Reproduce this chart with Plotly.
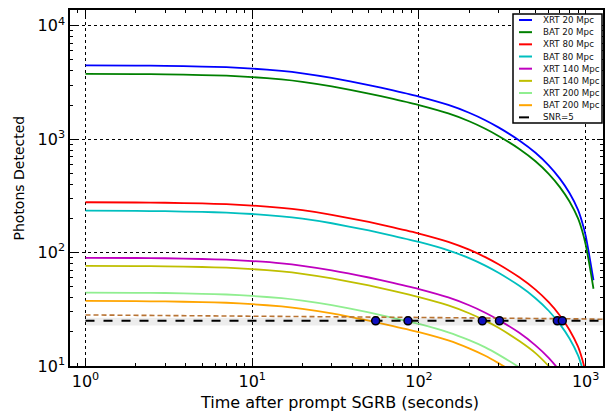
import plotly.graph_objects as go

# ---------------- data ----------------
time_s = [1, 2, 3, 5, 7, 10, 15, 20, 30, 50, 70, 100, 150, 200, 250, 300,
          400, 500, 600, 700, 800, 900, 950, 1000, 1036, 1075, 1114]

xrt_20 = [4480, 4458, 4435, 4368, 4310, 4189, 4001, 3808, 3472, 3002, 2688, 2374,
          2003, 1710, 1469, 1270, 974, 759, 588, 449, 335, 238, 188, 141, 107, 78, 57]
bat_20 = [3770, 3751, 3732, 3676, 3627, 3525, 3367, 3205, 2922, 2526, 2262, 1998,
          1685, 1439, 1236, 1068, 820, 639, 495, 378, 282, 200, 158, 118, 90, 66, 48]
xrt_80 = [278, 276.6, 275.2, 271.1, 267.4, 259.9, 248.3, 236.3, 215.5, 186.3, 166.8, 147.3,
          124.3, 106.1, 91.2, 78.8, 60.5, 47.1, 36.5, 27.9, 20.8, 14.8, 11.7, 8.7, 6.6, 4.9, 3.6]
bat_80 = [234, 232.8, 231.7, 228.2, 225.1, 218.8, 209.0, 198.9, 181.4, 156.8, 140.4, 124.0,
          104.6, 89.3, 76.7, 66.3, 50.9, 39.6, 30.7, 23.4, 17.5, 12.4, 9.8, 7.3, 5.6, 4.1, 3.0]
xrt_140 = [90, 89.6, 89.1, 87.8, 86.6, 84.2, 80.4, 76.5, 69.8, 60.3, 54.0, 47.7,
           40.2, 34.3, 29.5, 25.5, 19.6, 15.2, 11.8, 9.0, 6.7, 4.8, 3.8, 2.8, 2.1, 1.6, 1.2]
bat_140 = [76.5, 76.1, 75.7, 74.6, 73.6, 71.5, 68.3, 65.0, 59.3, 51.3, 45.9, 40.5,
           34.2, 29.2, 25.1, 21.7, 16.6, 13.0, 10.0, 7.7, 5.7, 4.1, 3.2, 2.4, 1.8, 1.3, 0.98]
xrt_200 = [44.4, 44.2, 44.0, 43.3, 42.7, 41.5, 39.6, 37.7, 34.4, 29.7, 26.6, 23.5,
           19.8, 16.9, 14.6, 12.6, 9.7, 7.5, 5.8, 4.4, 3.3, 2.4, 1.9, 1.4, 1.1, 0.78, 0.57]
bat_200 = [37.5, 37.3, 37.1, 36.6, 36.1, 35.1, 33.5, 31.9, 29.1, 25.1, 22.5, 19.9,
           16.8, 14.3, 12.3, 10.6, 8.2, 6.4, 4.9, 3.8, 2.8, 2.0, 1.6, 1.2, 0.89, 0.65, 0.48]

series_names = ["XRT 20 Mpc", "BAT 20 Mpc", "XRT 80 Mpc", "BAT 80 Mpc",
                "XRT 140 Mpc", "BAT 140 Mpc", "XRT 200 Mpc", "BAT 200 Mpc"]
series_values = [xrt_20, bat_20, xrt_80, bat_80, xrt_140, bat_140, xrt_200, bat_200]
series_colors = ["#0000ff", "#008000", "#ff0000", "#00bfbf",
                 "#bf00bf", "#bfbf00", "#90ee90", "#ffa500"]

snr_name = "SNR=5"
snr_time = [1, 1300]
snr_counts = [25, 25]
band_low = [22.8, 22.8]
band_high = [26.6, 26.6]

bkg_time = [1, 10, 100, 1000, 1300]
bkg_counts = [28.2, 27.6, 26.8, 26.0, 25.8]

cross_time = [55, 86, 240, 304, 676, 724]
cross_counts = [25, 25, 25, 25, 25, 25]

x_title = "Time after prompt SGRB (seconds)"
y_title = "Photons Detected"
x_tick_vals = [1, 10, 100, 1000]
x_tick_text = ["10<sup>0</sup>", "10<sup>1</sup>", "10<sup>2</sup>", "10<sup>3</sup>"]
y_tick_vals = [10, 100, 1000, 10000]
y_tick_text = ["10<sup>1</sup>", "10<sup>2</sup>", "10<sup>3</sup>", "10<sup>4</sup>"]

# ---------------- figure ----------------
FONT = "DejaVu Sans"
W, H = 605, 415
ML, MR, MT, MB = 70, 2, 10, 49
PW, PH = W - ML - MR, H - MT - MB

fig = go.Figure()

for name, vals, col in zip(series_names, series_values, series_colors):
    fig.add_trace(go.Scatter(x=time_s, y=vals, mode="lines", name=name, showlegend=False,
                             line=dict(color=col, width=1.8, shape="spline", smoothing=0.5)))

# soft grey shadow around SNR line
fig.add_trace(go.Scatter(x=snr_time, y=band_low, mode="lines", line=dict(width=0),
                         showlegend=False, hoverinfo="skip"))
fig.add_trace(go.Scatter(x=snr_time, y=band_high, mode="lines", line=dict(width=0),
                         fill="tonexty", fillcolor="rgba(0,0,0,0.07)",
                         showlegend=False, hoverinfo="skip"))

fig.add_trace(go.Scatter(x=bkg_time, y=bkg_counts, mode="lines", showlegend=False,
                         line=dict(color="#b87333", width=1.6, dash="5px,3px")))
fig.add_trace(go.Scatter(x=snr_time, y=snr_counts, mode="lines", name=snr_name,
                         showlegend=False,
                         line=dict(color="black", width=2, dash="9px,9px")))
fig.add_trace(go.Scatter(x=cross_time, y=cross_counts, mode="markers", showlegend=False,
                         marker=dict(color="#1010c0", size=8,
                                     line=dict(color="black", width=1.5))))

axis_common = dict(
    type="log", showline=True, linecolor="black", linewidth=1.5, mirror="ticks",
    ticks="inside", ticklen=6, tickwidth=1, tickcolor="black",
    showgrid=True, gridcolor="black", griddash="dot", gridwidth=1,
    zeroline=False, tickfont=dict(family=FONT, size=16, color="black"),
    minor=dict(ticks="inside", ticklen=3, tickwidth=1, tickcolor="black",
               dtick="D1", showgrid=False),
)

# ---- helpers converting pixel positions to paper coordinates ----
def px_x(px):
    return (px - ML) / PW

def px_y(py):
    return (H - MB - py) / PH

# ---- hand-built legend (matplotlib-style compact box) ----
shapes = [dict(type="rect", xref="paper", yref="paper",
               x0=px_x(513), x1=px_x(602), y0=px_y(123), y1=px_y(14),
               fillcolor="white", line=dict(color="black", width=1.5), layer="above")]
annotations = []
legend_labels = series_names + [snr_name]
legend_colors = series_colors + ["black"]
for i, (lab, col) in enumerate(zip(legend_labels, legend_colors)):
    yy = px_y(20 + 12.17 * i)
    x_end = 532 if lab != snr_name else 529
    shapes.append(dict(type="line", xref="paper", yref="paper",
                       x0=px_x(519), x1=px_x(x_end), y0=yy, y1=yy,
                       line=dict(color=col, width=2), layer="above"))
    annotations.append(dict(text=lab, xref="paper", yref="paper", x=px_x(541), y=yy,
                            xanchor="left", yanchor="middle", showarrow=False,
                            font=dict(family=FONT, size=8.7, color="#111111")))

# axis titles placed as in the reference
annotations.append(dict(text=x_title, xref="paper", yref="paper",
                        x=px_x(339), y=px_y(414), xanchor="center", yanchor="bottom",
                        showarrow=False, font=dict(family=FONT, size=16, color="black")))
annotations.append(dict(text=y_title, xref="paper", yref="paper", textangle=-90,
                        x=px_x(18), y=px_y(178.5), xanchor="center", yanchor="middle",
                        showarrow=False, font=dict(family=FONT, size=14, color="black")))

fig.update_layout(
    width=W, height=H,
    margin=dict(l=ML, r=MR, t=MT, b=MB, autoexpand=False),
    paper_bgcolor="white", plot_bgcolor="white",
    font=dict(family=FONT, color="black"),
    xaxis=dict(axis_common, range=[-0.093, 3.104], tickvals=x_tick_vals, ticktext=x_tick_text),
    yaxis=dict(axis_common, range=[1, 4.139], tickvals=y_tick_vals, ticktext=y_tick_text),
    shapes=shapes,
    annotations=annotations,
    showlegend=False,
)

fig.write_html("out.html", config={"displayModeBar": False},
               post_script="document.body.style.margin='0px';document.body.style.overflow='hidden';")
